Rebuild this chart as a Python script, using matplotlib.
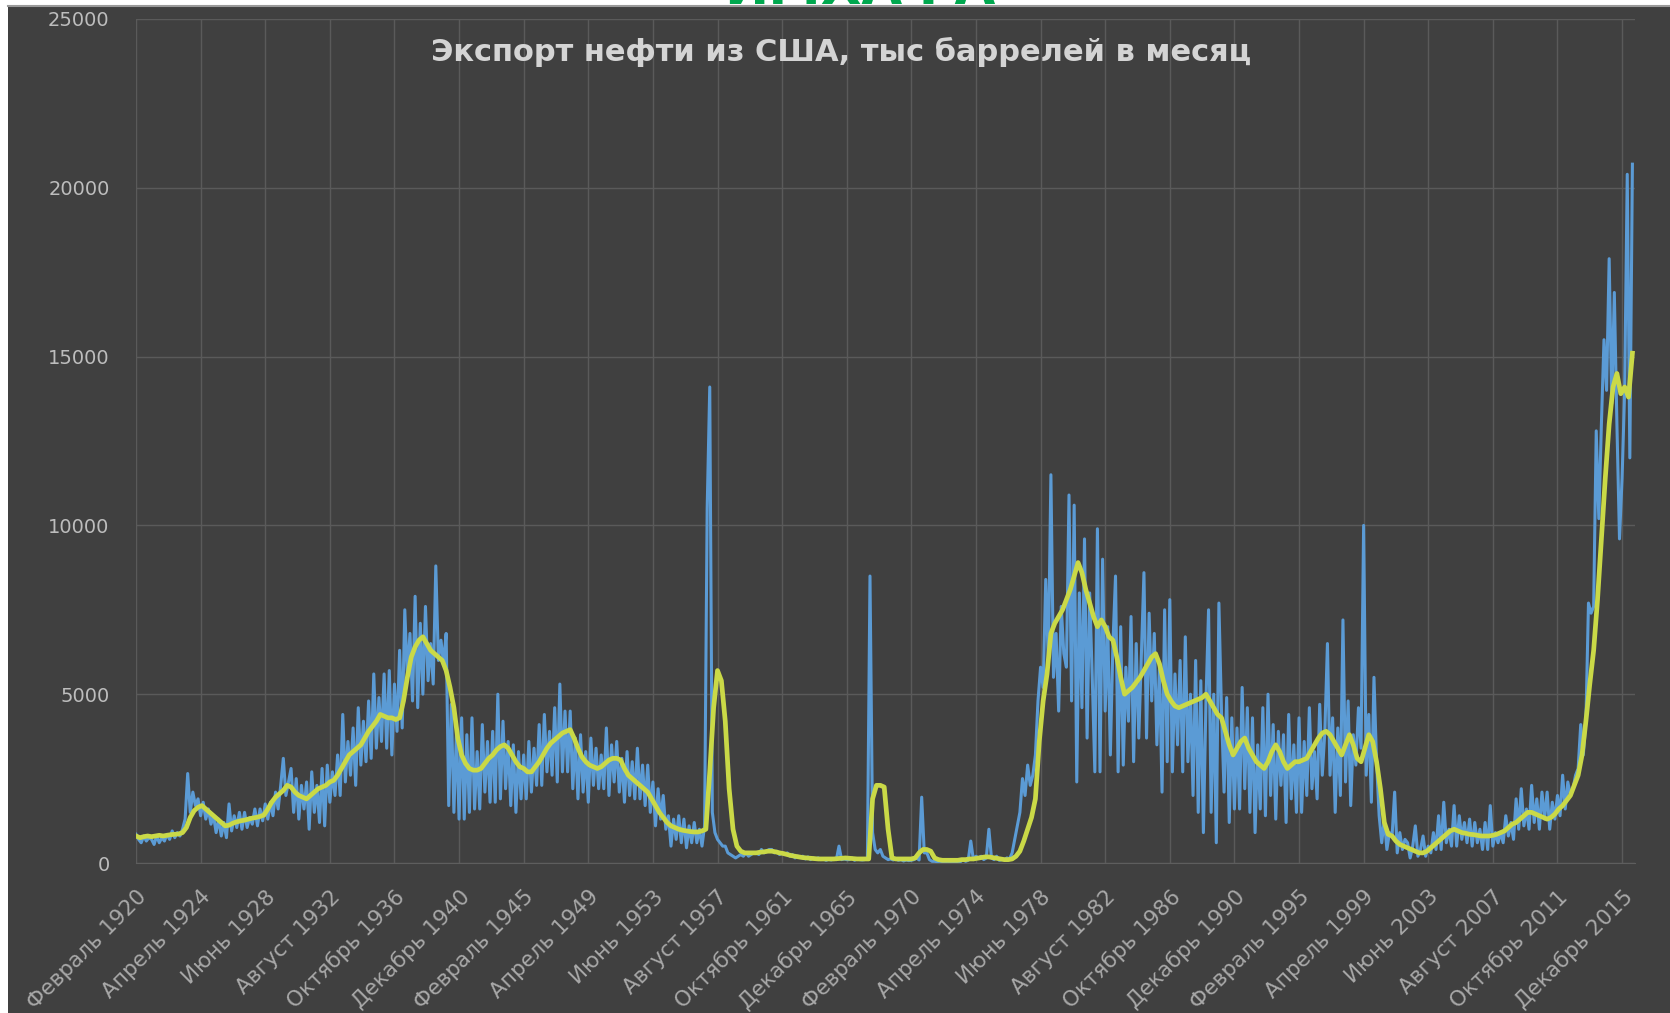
import numpy as np
import matplotlib
matplotlib.use("Agg")
import matplotlib.pyplot as plt
from matplotlib.patches import Rectangle

# monthly export read every second month (Feb, Apr, Jun, Aug, Oct, Dec), thousand barrels
blue_1920s = [850, 700, 600, 800, 650, 750,
              700, 550, 800, 600, 750, 650,
              850, 700, 950, 750, 900, 800,
              1000, 1300, 2650, 1500, 2100, 1700,
              1900, 1400, 1800, 1300, 1600, 1150,
              1400, 900, 1300, 800, 1200, 750,
              1750, 950, 1400, 1050, 1500, 1000,
              1500, 1050, 1350, 1150, 1600, 1100,
              1600, 1250, 1750, 1300, 1800, 1400,
              2100, 1600, 2300, 3100, 2000, 2400]
blue_1930s = [2800, 1500, 2500, 1300, 2300, 1600,
              2400, 1000, 2700, 1500, 2300, 1200,
              2800, 1100, 2900, 1800, 2700, 2000,
              3200, 2000, 4400, 2400, 3600, 2600,
              4000, 2300, 4600, 2900, 4200, 3000,
              4800, 3100, 5600, 3400, 4900, 3600,
              5600, 3400, 5700, 3200, 5300, 3900,
              6300, 4000, 7500, 5500, 6800, 4800,
              7900, 4600, 7100, 5000, 7600, 5400,
              6500, 5300, 8800, 6000, 6600, 5900]
blue_1940s = [6800, 1700, 4700, 1500, 3900, 1300,
              4300, 1300, 3800, 1500, 4300, 1600,
              3300, 1600, 4100, 2100, 3600, 1800,
              3900, 1800, 5000, 1900, 4200, 2200,
              3600, 1700, 3500, 1500, 3300, 1900,
              3200, 1900, 3600, 2100, 3400, 2300,
              4100, 2300, 4400, 2700, 3900, 2600,
              4600, 2400, 5300, 2700, 4500, 2700,
              4500, 2200, 3700, 1900, 3800, 2100,
              3300, 1800, 3700, 2300, 3400, 2200]
blue_1950s = [3200, 2200, 4000, 2000, 3500, 2400,
              3600, 2100, 3100, 1800, 3300, 2000,
              3000, 1900, 3400, 1900, 2900, 1700,
              2900, 1500, 2400, 1100, 2200, 1300,
              2000, 1000, 1400, 500, 1300, 700,
              1400, 600, 1300, 450, 1100, 600,
              1200, 600, 1000, 500, 1100, 10500,
              14100, 1500, 900, 700, 600, 500,
              500, 300, 250, 200, 150, 200,
              250, 200, 300, 200, 250, 300]
blue_1960s = [300, 250, 400, 300, 350, 400,
              400, 300, 350, 250, 300, 250,
              300, 200, 250, 150, 200, 180,
              200, 120, 180, 100, 150, 120,
              150, 100, 120, 80, 110, 90,
              120, 100, 500, 100, 120, 100,
              100, 150, 80, 120, 100, 90,
              100, 150, 8500, 900, 400, 300,
              400, 200, 150, 100, 120, 90,
              120, 80, 100, 60, 90, 70]
blue_1970s = [80, 100, 150, 90, 1950, 300,
              300, 100, 50, 50, 40, 50,
              40, 30, 50, 30, 40, 30,
              50, 40, 100, 50, 80, 650,
              100, 200, 150, 200, 100, 150,
              1000, 150, 100, 200, 80, 100,
              100, 150, 120, 300, 700, 1100,
              1500, 2500, 2000, 2900, 2300, 2600,
              3200, 4800, 5800, 5200, 8400, 6000,
              11500, 5500, 6800, 4500, 7600, 6200]
blue_1980s = [5800, 10900, 4800, 10600, 2400, 8000,
              4600, 9600, 3700, 8000, 5500, 2700,
              9900, 2700, 9000, 4500, 7000, 3200,
              6500, 8500, 2700, 7000, 2900, 5800,
              4200, 7300, 3000, 6500, 3700, 6200,
              8600, 3700, 7400, 4800, 6800, 3500,
              5800, 2100, 7500, 3000, 7800, 2700,
              5600, 3500, 6000, 2700, 6700, 3000,
              5000, 2000, 6000, 1500, 5400, 900,
              4800, 7500, 1500, 5000, 600, 7700]
blue_1990s = [4500, 2100, 4900, 1200, 4300, 1600,
              4000, 1600, 5200, 2200, 4600, 1500,
              4300, 900, 3500, 1600, 4600, 1400,
              5000, 2000, 4100, 1300, 3900, 2300,
              3800, 1200, 4400, 1900, 3500, 1500,
              4300, 1500, 3600, 2000, 4600, 2200,
              3300, 1900, 4700, 2600, 3900, 6500,
              2600, 4300, 1500, 4000, 2000, 7200,
              2400, 4800, 1700, 3800, 2900, 4600,
              3400, 10000, 2600, 4400, 1800, 5500]
blue_2000s = [3000, 1400, 600, 1300, 400, 900,
              800, 2100, 300, 900, 400, 700,
              600, 150, 500, 1100, 200, 400,
              800, 200, 500, 300, 900, 400,
              1400, 400, 1800, 600, 1000, 500,
              1700, 500, 1400, 700, 1200, 600,
              1300, 500, 1200, 600, 1000, 400,
              1200, 400, 1700, 500, 900, 600,
              900, 600, 1400, 800, 1200, 700,
              1900, 1000, 2200, 1100, 1600, 1000]
blue_2010s = [2300, 1200, 1900, 1000, 2100, 1300,
              2100, 1000, 1800, 1300, 2000, 1400,
              2600, 1600, 2400, 2000, 2200, 2600,
              2800, 4100, 3200, 4200, 7700, 7400,
              7600, 12800, 10200, 13000, 15500, 14000,
              17900, 13600, 16900, 13000, 9600, 11400,
              14000, 20400, 12000, 20700]

# smoothed series (yellow), read once a quarter (Feb, May, Aug, Nov)
yellow_1920s = [800, 750, 780, 800, 780, 800, 820, 800, 820, 840, 850, 860,
                900, 1050, 1350, 1550, 1650, 1700, 1600, 1500, 1400, 1300, 1200, 1100,
                1120, 1180, 1220, 1250, 1270, 1300, 1330, 1350, 1380, 1420, 1600, 1800,
                1950, 2050, 2150, 2300]
yellow_1930s = [2250, 2100, 2000, 1950, 1900, 2000, 2100, 2200, 2250, 2300, 2400, 2450,
                2600, 2800, 3000, 3200, 3300, 3400, 3500, 3700, 3900, 4050, 4200, 4400,
                4350, 4300, 4300, 4250, 4300, 4800, 5500, 6100, 6400, 6600, 6700, 6500,
                6300, 6200, 6100, 6000]
yellow_1940s = [5700, 5200, 4600, 3700, 3200, 2950, 2800, 2750, 2750, 2800, 2950, 3100,
                3200, 3350, 3450, 3500, 3400, 3200, 3000, 2850, 2800, 2700, 2700, 2850,
                3000, 3200, 3400, 3550, 3650, 3750, 3850, 3900, 3950, 3700, 3400, 3150,
                3000, 2900, 2850, 2800]
yellow_1950s = [2850, 2950, 3050, 3100, 3100, 3050, 2800, 2600, 2500, 2400, 2300, 2200,
                2100, 1900, 1700, 1500, 1350, 1200, 1100, 1050, 1000, 970, 950, 930,
                920, 920, 950, 1000, 2700, 4600, 5700, 5400, 4200, 2200, 1000, 500,
                350, 300, 300, 300]
yellow_1960s = [300, 320, 330, 350, 350, 330, 300, 280, 250, 220, 200, 180,
                160, 150, 140, 130, 120, 120, 120, 120, 120, 130, 140, 150,
                140, 130, 120, 120, 120, 120, 1900, 2300, 2300, 2250, 1000, 150,
                120, 120, 120, 120]
yellow_1970s = [120, 150, 300, 400, 400, 350, 150, 100, 80, 80, 80, 80,
                80, 100, 100, 120, 120, 140, 160, 180, 180, 160, 140, 120,
                100, 100, 120, 200, 350, 650, 1000, 1350, 1900, 3600, 4800, 5600,
                6800, 7100, 7300, 7500]
yellow_1980s = [7800, 8100, 8500, 8900, 8600, 8100, 7700, 7300, 7000, 7200, 7000, 6700,
                6600, 6100, 5500, 5000, 5100, 5200, 5350, 5500, 5700, 5900, 6100, 6200,
                5900, 5400, 5000, 4800, 4650, 4600, 4650, 4700, 4750, 4800, 4850, 4900,
                5000, 4800, 4600, 4400]
yellow_1990s = [4300, 3900, 3500, 3200, 3400, 3600, 3700, 3400, 3200, 3000, 2900, 2800,
                3000, 3300, 3500, 3300, 3000, 2800, 2900, 3000, 3000, 3050, 3100, 3300,
                3500, 3700, 3850, 3900, 3800, 3600, 3400, 3200, 3500, 3800, 3500, 3100,
                3000, 3400, 3800, 3600]
yellow_2000s = [3000, 2200, 1200, 850, 800, 650, 550, 500, 450, 400, 350, 300,
                300, 350, 450, 550, 650, 750, 850, 950, 1000, 950, 900, 880,
                850, 840, 820, 800, 800, 800, 820, 850, 900, 950, 1050, 1150,
                1200, 1300, 1400, 1500]
yellow_2010s = [1500, 1450, 1400, 1350, 1300, 1350, 1450, 1600, 1700, 1850, 2000, 2300,
                2600, 3200, 4200, 5300, 6300, 7800, 9600, 11400, 13000, 14100, 14500, 13900,
                14100, 13800, 15100]

month_labels = ["Февраль 1920", "Апрель 1924", "Июнь 1928", "Август 1932",
                "Октябрь 1936", "Декабрь 1940", "Февраль 1945", "Апрель 1949",
                "Июнь 1953", "Август 1957", "Октябрь 1961", "Декабрь 1965",
                "Февраль 1970", "Апрель 1974", "Июнь 1978", "Август 1982",
                "Октябрь 1986", "Декабрь 1990", "Февраль 1995", "Апрель 1999",
                "Июнь 2003", "Август 2007", "Октябрь 2011", "Декабрь 2015"]
y_ticks = [0, 5000, 10000, 15000, 20000, 25000]

blue = (blue_1920s + blue_1930s + blue_1940s + blue_1950s + blue_1960s
        + blue_1970s + blue_1980s + blue_1990s + blue_2000s + blue_2010s)
yellow = (yellow_1920s + yellow_1930s + yellow_1940s + yellow_1950s + yellow_1960s
          + yellow_1970s + yellow_1980s + yellow_1990s + yellow_2000s + yellow_2010s)

# months since February 1920
blue_months = np.arange(len(blue)) * 2
yellow_months = np.arange(len(yellow)) * 3

W, H = 1670, 1013
fig = plt.figure(figsize=(W / 100, H / 100), dpi=100)
fig.patch.set_facecolor("white")

# watermark, mostly cut off by the top edge
fig.text(860 / W, 1 - 3.5 / H, "ИМХАФА", color="#00a84f", fontsize=38,
         fontweight="bold", ha="center", va="baseline", zorder=-3)

bg = Rectangle((8 / W, 0), 1, 1 - 6 / H, transform=fig.transFigure,
               facecolor="#404040", edgecolor="none", zorder=-2)
fig.patches.append(bg)
fig.add_artist(plt.Line2D([8 / W, 1], [1 - 6 / H, 1 - 6 / H], color="#9a9a9a",
                          lw=1.5, transform=fig.transFigure, zorder=-1))

ax = fig.add_axes([136 / W, 150 / H, (1635 - 136) / W, (863 - 19) / H])
ax.set_facecolor("none")

ax.plot(blue_months, blue, color="#5b9bd5", lw=2.2, zorder=3)
ax.plot(yellow_months, yellow, color="#cad947", lw=3.4, zorder=4)

ax.set_xlim(0, 1160)
ax.set_ylim(0, 25000)
ax.set_xticks(np.arange(len(month_labels)) * 50)
ax.set_xticklabels(month_labels, rotation=45, ha="right", va="top",
                   rotation_mode="anchor", fontsize=15.5, color="#a8a8a8")
ax.set_yticks(y_ticks)
ax.set_yticklabels([str(v) for v in y_ticks], fontsize=14, color="#bdbdbd")
ax.tick_params(axis="both", length=0)
ax.tick_params(axis="x", pad=17)
ax.tick_params(axis="y", pad=19)

ax.grid(True, color="#5a5a5a", lw=1)
ax.set_axisbelow(True)
for side in ["top", "right", "left"]:
    ax.spines[side].set_visible(False)
ax.spines["bottom"].set_color("#5e5e5e")

fig.text(841 / W, 1 - 52 / H, "Экспорт нефти из США, тыс баррелей в месяц",
         color="#d4d4d4", fontsize=22, fontweight="bold", ha="center", va="center")

fig.savefig("out.png", dpi=100, facecolor=fig.get_facecolor())
